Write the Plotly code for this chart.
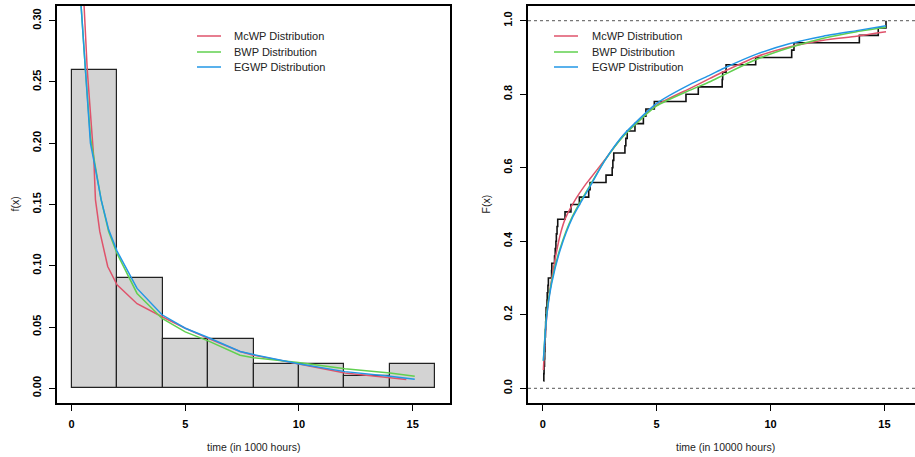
import plotly.graph_objects as go

W, H = 915, 457

# ---------------- data ----------------
# histogram (density) of failure times, bins of width 2 (in 1000 hours)
bin_left = [0, 2, 4, 6, 8, 10, 12, 14]
bin_width = 2
hist_density = [0.26, 0.09, 0.04, 0.04, 0.02, 0.02, 0.01, 0.02]

# fitted density curves (left panel)
mcwp_pdf_x = [0.45, 0.54, 0.69, 0.98, 1.05, 1.24, 1.59, 2.0, 2.88, 3.98, 5.0, 6.03, 7.41, 8.0, 9.97, 12.02, 14.0, 14.72]
mcwp_pdf_y = [0.35, 0.312, 0.26, 0.187, 0.154, 0.128, 0.0994, 0.0844, 0.069, 0.0584, 0.049, 0.0405, 0.030, 0.027, 0.020, 0.0125, 0.0087, 0.0071]
bwp_pdf_x = [0.35, 0.42, 0.61, 0.83, 1.0, 1.3, 1.63, 2.0, 2.88, 3.98, 5.0, 6.03, 7.41, 8.0, 9.97, 12.02, 14.0, 15.09]
bwp_pdf_y = [0.34, 0.312, 0.26, 0.205, 0.186, 0.154, 0.128, 0.110, 0.0774, 0.057, 0.046, 0.0385, 0.027, 0.025, 0.0210, 0.0160, 0.0125, 0.0098]
egwp_pdf_x = [0.35, 0.42, 0.61, 0.83, 1.0, 1.3, 1.63, 2.0, 2.88, 3.98, 5.0, 6.03, 7.41, 8.0, 9.97, 12.02, 14.0, 15.09]
egwp_pdf_y = [0.34, 0.312, 0.26, 0.20, 0.184, 0.154, 0.1295, 0.112, 0.0815, 0.060, 0.049, 0.0413, 0.030, 0.0275, 0.0200, 0.0136, 0.0098, 0.0073]

# ordered sample used for the empirical CDF (right panel)
sample_sorted = [0.03, 0.05, 0.06, 0.08, 0.09, 0.10, 0.11, 0.12, 0.13, 0.14,
                 0.15, 0.19, 0.20, 0.23, 0.25, 0.39, 0.40,
                 0.52, 0.55, 0.58, 0.60, 0.63, 0.66, 0.98, 1.24, 1.61,
                 2.02, 2.08, 2.78, 3.05, 3.08, 3.12, 3.61, 3.65, 3.71,
                 4.05, 4.42, 4.53, 4.90,
                 6.29, 6.83, 7.88, 7.90,
                 8.05, 9.35, 10.93, 11.03, 13.90, 14.73, 15.07]

# fitted CDF curves (right panel)
mcwp_cdf_x = [0.03, 0.10, 0.20, 0.35, 0.57, 0.80, 1.00, 1.46, 1.83, 2.08, 2.73, 3.54, 5.0, 6.47, 7.34, 7.93, 9.39, 10.86, 12.32, 13.78, 15.07]
mcwp_cdf_y = [0.05, 0.13, 0.21, 0.28, 0.36, 0.425, 0.463, 0.516, 0.550, 0.570, 0.622, 0.687, 0.770, 0.816, 0.843, 0.861, 0.902, 0.929, 0.947, 0.958, 0.970]
bwp_cdf_x = [0.03, 0.17, 0.39, 0.76, 1.32, 2.15, 2.73, 3.54, 5.0, 6.47, 7.34, 7.93, 9.39, 10.86, 12.32, 13.78, 15.07]
bwp_cdf_y = [0.075, 0.20, 0.29, 0.38, 0.47, 0.56, 0.62, 0.686, 0.768, 0.811, 0.834, 0.852, 0.895, 0.927, 0.952, 0.970, 0.982]
egwp_cdf_x = [0.03, 0.17, 0.39, 0.76, 1.32, 2.15, 2.73, 3.54, 5.0, 6.47, 7.34, 7.93, 9.39, 10.86, 12.32, 13.78, 15.07]
egwp_cdf_y = [0.075, 0.193, 0.284, 0.375, 0.466, 0.557, 0.62, 0.689, 0.775, 0.827, 0.852, 0.870, 0.909, 0.938, 0.958, 0.973, 0.986]

legend_labels = ["McWP Distribution", "BWP Distribution", "EGWP Distribution"]
colors = ["#DF536B", "#61D04F", "#2297E6"]

x_ticks = [0, 5, 10, 15]
pdf_y_ticks = [0.00, 0.05, 0.10, 0.15, 0.20, 0.25, 0.30]
cdf_y_ticks = [0.0, 0.2, 0.4, 0.6, 0.8, 1.0]

# ---------------- figure ----------------
fig = go.Figure()

# histogram bars
fig.add_trace(go.Bar(
    x=[b + bin_width / 2 for b in bin_left], y=hist_density, width=bin_width,
    marker=dict(color="#D3D3D3", line=dict(color="#222222", width=1.2)),
    xaxis="x", yaxis="y", showlegend=False, hoverinfo="skip"))

for xs, ys, c in [(mcwp_pdf_x, mcwp_pdf_y, colors[0]),
                  (bwp_pdf_x, bwp_pdf_y, colors[1]),
                  (egwp_pdf_x, egwp_pdf_y, colors[2])]:
    fig.add_trace(go.Scatter(x=xs, y=ys, mode="lines", line=dict(color=c, width=1.5),
                             xaxis="x", yaxis="y", showlegend=False))

# ECDF
n = len(sample_sorted)
ecdf_y = [(i + 1) / n for i in range(n)]
fig.add_trace(go.Scatter(x=sample_sorted, y=ecdf_y, mode="lines", line_shape="hv",
                         line=dict(color="#111111", width=1.6),
                         xaxis="x2", yaxis="y2", showlegend=False))

for xs, ys, c in [(mcwp_cdf_x, mcwp_cdf_y, colors[0]),
                  (bwp_cdf_x, bwp_cdf_y, colors[1]),
                  (egwp_cdf_x, egwp_cdf_y, colors[2])]:
    fig.add_trace(go.Scatter(x=xs, y=ys, mode="lines", line=dict(color=c, width=1.5, shape="spline", smoothing=0.6),
                             xaxis="x2", yaxis="y2", showlegend=False))

# dashed reference lines at F=0 and F=1
for hv in [0.0, 1.0]:
    fig.add_shape(type="line", xref="paper", x0=528 / W, x1=1.0, yref="y2", y0=hv, y1=hv,
                  line=dict(color="#777777", width=1.2, dash="3px,3px"), layer="below")

tickfont = dict(family="Liberation Sans, Arial, sans-serif", size=11, color="black", weight="bold")
common_axis = dict(showline=True, linecolor="black", linewidth=1.6, ticks="outside", ticklen=6,
                   tickwidth=1.4, tickcolor="black", showgrid=False, zeroline=False,
                   tickfont=tickfont, ticklabelstandoff=4)

ydom = [1 - 403 / H, 1 - 6 / H]

fig.update_layout(
    width=W, height=H, margin=dict(l=0, r=0, t=0, b=0),
    paper_bgcolor="white", plot_bgcolor="white", bargap=0,
    xaxis=dict(domain=[57 / W, 450 / W], range=[-0.64, 16.64], tickvals=x_ticks,
               mirror=True, anchor="y", **common_axis),
    yaxis=dict(domain=ydom, range=[-0.012, 0.312], tickvals=pdf_y_ticks, tickformat=".2f",
               tickangle=-90, mirror=True, anchor="x", **common_axis),
    xaxis2=dict(domain=[528 / W, 1.0], range=[-0.645, 16.343], tickvals=x_ticks,
                mirror=True, anchor="y2", **common_axis),
    yaxis2=dict(domain=ydom, range=[-0.04, 1.04], tickvals=cdf_y_ticks, tickformat=".1f",
                tickangle=-90, mirror=False, anchor="x2", **common_axis),
)

labfont = dict(family="Liberation Sans, Arial, sans-serif", size=10.5, color="#222222")
legfont = dict(family="Liberation Sans, Arial, sans-serif", size=11, color="#222222")

# axis titles
fig.add_annotation(text="time (in 1000 hours)", x=253.5 / W, y=1 - 447 / H, xref="paper", yref="paper",
                   showarrow=False, font=labfont, xanchor="center", yanchor="middle")
fig.add_annotation(text="time (in 10000 hours)", x=725 / W, y=1 - 447 / H, xref="paper", yref="paper",
                   showarrow=False, font=labfont, xanchor="center", yanchor="middle")
fig.add_annotation(text="f(x)", x=14 / W, y=1 - 204.5 / H, xref="paper", yref="paper",
                   showarrow=False, font=labfont, textangle=-90, xanchor="center", yanchor="middle")
fig.add_annotation(text="F(x)", x=485 / W, y=1 - 204.5 / H, xref="paper", yref="paper",
                   showarrow=False, font=labfont, textangle=-90, xanchor="center", yanchor="middle")

# legends
legend_rows_y = [36, 52, 67]
for (lx0, lx1, tx) in [(197, 221, 232), (554, 578, 590)]:
    for lab, c, ry in zip(legend_labels, colors, legend_rows_y):
        fig.add_shape(type="line", xref="paper", yref="paper", x0=lx0 / W, x1=lx1 / W,
                      y0=1 - ry / H, y1=1 - ry / H, line=dict(color=c, width=1.5))
        fig.add_annotation(text=lab, x=tx / W, y=1 - ry / H, xref="paper", yref="paper",
                           showarrow=False, font=legfont, xanchor="left", yanchor="middle")

fig.write_html("out.html")
